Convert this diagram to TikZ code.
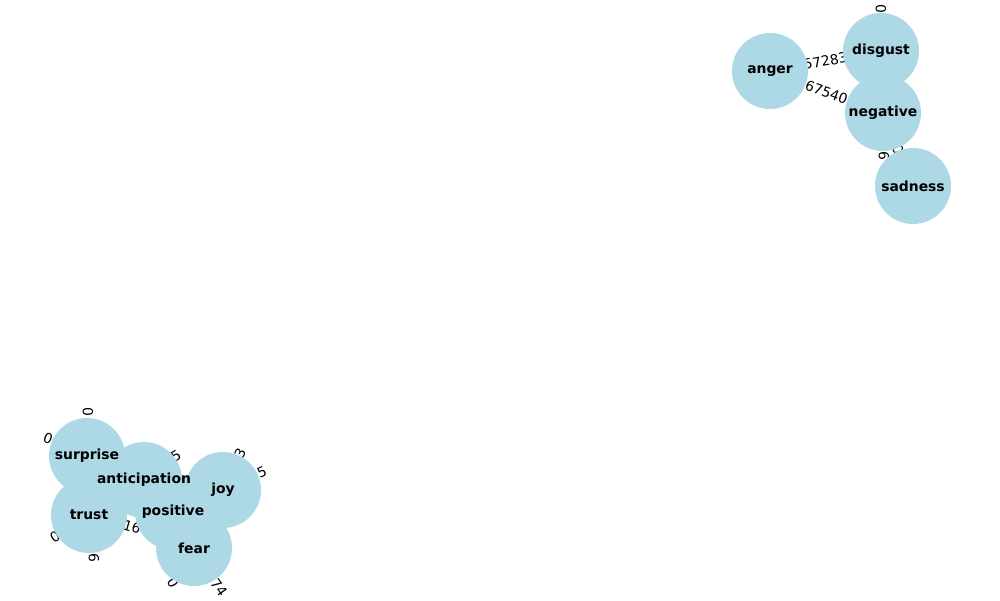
\documentclass[tikz,border=0pt]{standalone}
\usepackage{fontspec}
\setmainfont{DejaVu Sans}
\usetikzlibrary{backgrounds}
\definecolor{nodeblue}{HTML}{ADD8E6}
\tikzset{
  emotion/.style={circle, fill=nodeblue, minimum size=76pt, inner sep=0pt},
  emotext/.style={font=\fontsize{13.9}{16}\selectfont\bfseries, inner sep=0pt},
  wlabel/.style={font=\fontsize{13.9}{16}\selectfont, inner sep=0pt}
}
\begin{document}
\begin{tikzpicture}[x=1pt,y=-1pt]
  \useasboundingbox (0,0) rectangle (1000,600);
  % negative cluster
  \node[emotion] (anger) at (770,71) {};
  \node[emotion] (disgust) at (881,51) {};
  \node[emotion] (negative) at (883,113) {};
  \node[emotion] (sadness) at (913,186) {};
  % positive cluster
  \node[emotion] (surprise) at (87,456) {};
  \node[emotion] (trust) at (89,515) {};
  \node[emotion] (anticipation) at (144,480) {};
  \node[emotion] (joy) at (223,490) {};
  \node[emotion] (positive) at (173,512) {};
  \node[emotion] (fear) at (194,548) {};
  % names on top of all circles
  \foreach \n in {anger,disgust,negative,sadness,surprise,trust,anticipation,joy,positive,fear}
    \node[emotext] (\n-t) at (\n) {\n};
  % edge weights, mostly hidden under the nodes
  \begin{scope}[on background layer]
    \path (anger) -- node[wlabel,sloped] {57283} (disgust);
    \path (anger) -- node[wlabel,sloped] {67540} (negative);
    \path (negative) -- node[wlabel,sloped] {0} (sadness);
    \node[wlabel,rotate=-90] (dn0) at (881,9) {0};
    \node[wlabel,rotate=-90] (dn6) at (884,156) {6};
    \node[wlabel,rotate=-90] (st0) at (88,412) {0};
    \node[wlabel,rotate=-90] (st6) at (94,558) {6};
    \node[wlabel,rotate=-22] (sa0) at (48,438) {0};
    \node[wlabel,rotate=32] (at0) at (55,537) {0};
    \node[wlabel,rotate=32] (at5) at (176,456) {5};
    \node[wlabel,rotate=63] (jf3) at (240,453) {3};
    \node[wlabel,rotate=24] (jp5) at (262,472) {5};
    \node[wlabel,rotate=-17] (tf16) at (132,527) {16};
    \node[wlabel,rotate=-60] (pf0) at (173,583) {0};
    \node[wlabel,rotate=-54] (af74) at (219,588) {74};
  \end{scope}
\end{tikzpicture}
\end{document}
